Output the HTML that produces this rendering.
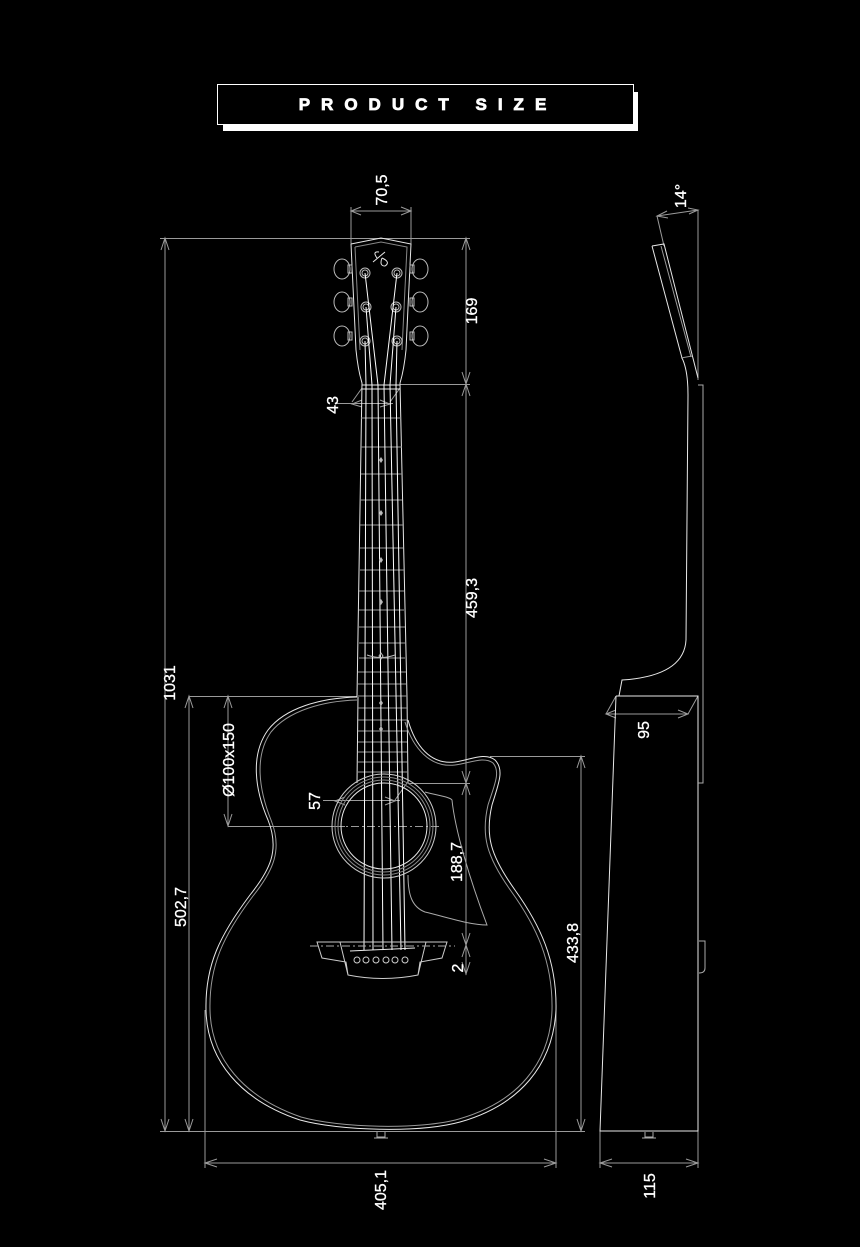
<!DOCTYPE html>
<html><head><meta charset="utf-8"><style>
html,body{margin:0;padding:0;background:#000;}
svg{display:block;}
text{font-family:"Liberation Sans",Arial,sans-serif;fill:#fff;}
</style></head><body>
<svg width="860" height="1247" viewBox="0 0 860 1247" xmlns="http://www.w3.org/2000/svg">
<rect width="860" height="1247" fill="#000"/>
<!-- header -->
<rect x="223" y="92" width="415" height="39" fill="#fff"/>
<rect x="217.5" y="84.5" width="416" height="40" fill="#000" stroke="#fff" stroke-width="1"/>
<text x="428" y="110" text-anchor="middle" font-size="17" font-weight="bold" letter-spacing="11" stroke="#fff" stroke-width="0.8">PRODUCT SIZE</text>

<g fill="none" stroke="#9a9a9a" stroke-width="1">
<!-- 70,5 -->
<line x1="351" y1="211" x2="411" y2="211"/><line x1="351" y1="207" x2="351" y2="244"/><line x1="411" y1="207" x2="411" y2="244"/>
<path d="M361,207 L351,211 L361,215 M401,207 L411,211 L401,215"/>
<!-- 1031 -->
<line x1="160" y1="238.5" x2="470" y2="238.5"/>
<line x1="165" y1="238" x2="165" y2="1131"/>
<path d="M161,250 L165,238 L169,250 M161,1119 L165,1131 L169,1119"/>
<line x1="160" y1="1131.5" x2="585" y2="1131.5"/>
<!-- 169 / 459,3 / 188,7 / 2 -->
<line x1="466" y1="238" x2="466" y2="975"/>
<path d="M462,250 L466,238 L470,250 M462,372 L466,384 L470,372 M462,396 L466,384 L470,396 M462,933 L466,945 L470,933"/>
<line x1="400" y1="384.5" x2="470" y2="384.5"/>
<line x1="408" y1="783.5" x2="470" y2="783.5"/>
<path d="M462,771 L466,783 L470,771 M462,795 L466,783 L470,795 M462,957 L466,945 L470,957 M462,962 L466,974 L470,962"/>
<!-- 502,7 -->
<line x1="189" y1="696.5" x2="357" y2="696.5"/>
<line x1="189" y1="696" x2="189" y2="1131"/>
<path d="M185,708 L189,696 L193,708 M185,1119 L189,1131 L193,1119"/>
<!-- Ø100x150 -->
<line x1="228" y1="696" x2="228" y2="826"/>
<path d="M224,708 L228,696 L232,708 M224,814 L228,826 L232,814"/>
<line x1="228" y1="826.5" x2="345" y2="826.5"/>
<line x1="335" y1="826.5" x2="440" y2="826.5" stroke-dasharray="8,3,2,3"/>
<!-- 433,8 -->
<line x1="490" y1="756.5" x2="585" y2="756.5"/>
<line x1="581" y1="756" x2="581" y2="1131"/>
<path d="M577,768 L581,756 L585,768 M577,1119 L581,1131 L585,1119"/>
<!-- 405,1 -->
<line x1="205" y1="1010" x2="205" y2="1168"/><line x1="556" y1="1010" x2="556" y2="1168"/>
<line x1="205" y1="1163" x2="556" y2="1163"/>
<path d="M217,1159 L205,1163 L217,1167 M544,1159 L556,1163 L544,1167"/>
<!-- 115 -->
<line x1="600" y1="1131" x2="600" y2="1168"/><line x1="698" y1="1131" x2="698" y2="1168"/>
<line x1="600" y1="1163" x2="698" y2="1163"/>
<path d="M612,1159 L600,1163 L612,1167 M686,1159 L698,1163 L686,1167"/>
<!-- 43 -->
<line x1="337" y1="403.5" x2="393" y2="403.5"/>
<path d="M362,388 L352,402 M400,388 L390,402 M362,400 L352,404 L362,407 M380,400 L390,404 L380,407"/>
<!-- 57 -->
<line x1="323" y1="800.5" x2="400" y2="800.5"/>
<path d="M345,797 L335,801 L345,805 M385,797 L395,801 L385,805 M407,783 L395,800"/>
<!-- 14 deg -->
<line x1="698" y1="210" x2="698" y2="380"/>
<line x1="657" y1="216" x2="698" y2="210"/>
<line x1="657" y1="216" x2="664" y2="246"/>
<path d="M667,211 L657,216 L668,218 M688,208 L698,210 L689,214"/>
<!-- 95 -->
<path d="M606,714 L688,714 M616,696 L606,714 M698,696 L688,714 M616,710 L606,714 L616,718 M678,710 L688,714 L678,718"/>
</g>

<!-- labels -->
<g font-size="16" stroke="#fff" stroke-width="0.3">
<text transform="translate(387,190) rotate(-90)" text-anchor="middle">70,5</text>
<text transform="translate(477,311) rotate(-90)" text-anchor="middle">169</text>
<text transform="translate(477,598) rotate(-90)" text-anchor="middle">459,3</text>
<text transform="translate(175,683) rotate(-90)" text-anchor="middle">1031</text>
<text transform="translate(338,405) rotate(-90)" text-anchor="middle">43</text>
<text transform="translate(234,760) rotate(-90)" text-anchor="middle">Ø100x150</text>
<text transform="translate(320,801) rotate(-90)" text-anchor="middle">57</text>
<text transform="translate(462,862) rotate(-90)" text-anchor="middle">188,7</text>
<text transform="translate(463,968) rotate(-90)" text-anchor="middle">2</text>
<text transform="translate(186,907) rotate(-90)" text-anchor="middle">502,7</text>
<text transform="translate(578,943) rotate(-90)" text-anchor="middle">433,8</text>
<text transform="translate(386,1190) rotate(-90)" text-anchor="middle">405,1</text>
<text transform="translate(655,1186) rotate(-90)" text-anchor="middle">115</text>
<text transform="translate(649,730) rotate(-90)" text-anchor="middle">95</text>
<text transform="translate(686,196) rotate(-90)" text-anchor="middle">14°</text>
</g>

<g fill="none" stroke="#e8e8e8" stroke-width="1">
<!-- headstock -->
<path d="M351,244 L381,238 L411,244 L406,350 Q404,370 400,383 M351,244 L356,350 Q358,370 362,383"/>
<path d="M355,247 L381,242 L407,247 L402,350 M355,247 L360,350" stroke="#888"/>
<!-- logo -->
<path d="M373,262 L385,252 M377,258 Q372,251 379,252 M382,258 Q391,262 385,266 Q379,266 382,258" stroke-width="1"/>
<!-- tuners -->
<g stroke="#bbb">
<ellipse cx="342" cy="269" rx="8" ry="10"/><ellipse cx="342" cy="302" rx="8" ry="10"/><ellipse cx="342" cy="336" rx="8" ry="10"/>
<ellipse cx="420" cy="269" rx="8" ry="10"/><ellipse cx="420" cy="302" rx="8" ry="10"/><ellipse cx="420" cy="336" rx="8" ry="10"/>
<rect x="348" y="265" width="4" height="8"/><rect x="348" y="298" width="4" height="8"/><rect x="348" y="332" width="4" height="8"/>
<rect x="410" y="265" width="4" height="8"/><rect x="410" y="298" width="4" height="8"/><rect x="410" y="332" width="4" height="8"/>
<circle cx="365" cy="273" r="5"/><circle cx="365" cy="273" r="3"/><circle cx="366" cy="307" r="5"/><circle cx="366" cy="307" r="3"/><circle cx="365" cy="341" r="5"/><circle cx="365" cy="341" r="3"/>
<circle cx="397" cy="273" r="5"/><circle cx="397" cy="273" r="3"/><circle cx="396" cy="307" r="5"/><circle cx="396" cy="307" r="3"/><circle cx="397" cy="341" r="5"/><circle cx="397" cy="341" r="3"/>
</g>
<!-- neck -->
<path d="M362,383 L357,697 M400,383 L407,697"/>
<path d="M358,697 L357,783 M407,697 L408,783"/>
<line x1="362" y1="385" x2="400" y2="385"/><line x1="362" y1="389" x2="400" y2="389"/>
<g stroke="#999">
<line x1="361" y1="418" x2="401" y2="418"/><line x1="361" y1="447" x2="402" y2="447"/><line x1="361" y1="474" x2="402" y2="474"/>
<line x1="360" y1="500" x2="402" y2="500"/><line x1="360" y1="525" x2="403" y2="525"/><line x1="360" y1="548" x2="403" y2="548"/>
<line x1="360" y1="570" x2="404" y2="570"/><line x1="359" y1="591" x2="404" y2="591"/><line x1="359" y1="610" x2="404" y2="610"/>
<line x1="359" y1="627" x2="405" y2="627"/><line x1="359" y1="643" x2="405" y2="643"/><line x1="359" y1="658" x2="405" y2="658"/>
<line x1="358" y1="672" x2="406" y2="672"/><line x1="358" y1="684" x2="406" y2="684"/><line x1="358" y1="696" x2="407" y2="696"/>
<line x1="358" y1="708" x2="407" y2="708"/><line x1="358" y1="720" x2="407" y2="720"/><line x1="358" y1="731" x2="407" y2="731"/>
<line x1="358" y1="742" x2="407" y2="742"/><line x1="358" y1="752" x2="407" y2="752"/><line x1="358" y1="762" x2="407" y2="762"/>
<line x1="358" y1="772" x2="407" y2="772"/>
</g>
<!-- strings -->
<g stroke="#fff">
<path d="M365,341 L366,385 L364,950"/><path d="M366,307 L372,385 L373,950"/><path d="M365,273 L378,385 L383,950"/>
<path d="M397,273 L384,385 L392,950"/><path d="M396,307 L390,385 L401,950"/><path d="M397,341 L396,385 L405,950"/>
</g>
<!-- body -->
<path d="M357,697 C320,698 285,708 268,730 C250,755 255,790 268,820 C280,850 270,870 250,895 C220,935 205,965 206,1010 C207,1060 240,1100 300,1120 C340,1131 420,1133 460,1122 C520,1105 553,1065 556,1010 C557,960 540,925 515,890 C490,855 485,835 492,805 C498,785 505,770 495,760 C485,752 470,760 455,762 C430,765 415,745 408,720"/>
<path d="M357,700 C322,701 288,711 271,732 C254,756 259,790 271,820 C283,850 273,871 253,896 C223,936 209,966 210,1010 C211,1058 243,1097 301,1117 C340,1128 420,1130 459,1119 C518,1102 550,1063 552,1010 C553,961 536,926 511,891 C486,856 481,835 488,805 C494,786 501,772 493,763 C484,756 470,763 455,765 C430,768 413,748 405,722" stroke="#999"/>
<!-- soundhole -->
<circle cx="384" cy="826" r="52" stroke="#ccc"/><circle cx="384" cy="826" r="49" stroke="#888"/><circle cx="384" cy="826" r="46" stroke="#888"/><circle cx="384" cy="826" r="43"/>
<!-- pickguard -->
<path d="M425,792 C440,796 450,797 452,800 C455,830 470,880 487,925 C470,925 450,918 425,912 C412,907 408,895 408,875" stroke="#aaa"/>
<!-- bridge -->
<path d="M317,942 L447,942 L442,958 L420,962 L418,975 Q383,982 348,975 L346,962 L322,958 Z M340,942 L348,975 M426,942 L418,975" stroke="#ccc"/>
<line x1="310" y1="946" x2="455" y2="946" stroke="#aaa" stroke-dasharray="8,3,2,3"/>
<line x1="350" y1="951" x2="415" y2="948"/>
<g stroke="#ccc"><circle cx="357" cy="960" r="3"/><circle cx="366" cy="960" r="3"/><circle cx="376" cy="960" r="3"/><circle cx="386" cy="960" r="3"/><circle cx="395" cy="960" r="3"/><circle cx="405" cy="960" r="3"/></g>
<path d="M377,1132 L377,1137 L385,1137 L385,1132 M374,1138 L388,1138" stroke="#aaa"/>
<!-- side view -->
<path d="M652,246 L664,244 L698,378 M652,246 L682,358 Q688,370 688,395 L686,640 Q684,676 622,680 L619,696"/>
<path d="M661,246 L691,357 M681,358 L692,356" stroke="#999"/>
<path d="M616,696 L698,696 L698,1131 L600,1131 L616,696"/>
<path d="M698,385 L703,385 L703,783 L698,783" stroke="#aaa"/>
<path d="M699,941 L705,941 L705,968 Q705,973 699,973" stroke="#aaa"/>
<path d="M645,1132 L645,1137 L653,1137 L653,1132 M642,1138 L656,1138" stroke="#aaa"/>
</g>
<!-- inlays -->
<g fill="#bbb">
<path d="M381,457 l2,3 -2,3 -2,-3z"/><path d="M381,510 l2,3 -2,3 -2,-3z"/><path d="M381,557 l2,3 -2,3 -2,-3z"/>
<path d="M381,599 l2,3 -2,3 -2,-3z"/><path d="M381,700 l2,3 -2,3 -2,-3z"/><path d="M381,726 l2,3 -2,3 -2,-3z"/>
</g>
<path d="M367,655 Q381,660 395,655 M381,653 l2,3 -2,3 -2,-3z" stroke="#bbb" fill="none"/>
</svg>
</body></html>
